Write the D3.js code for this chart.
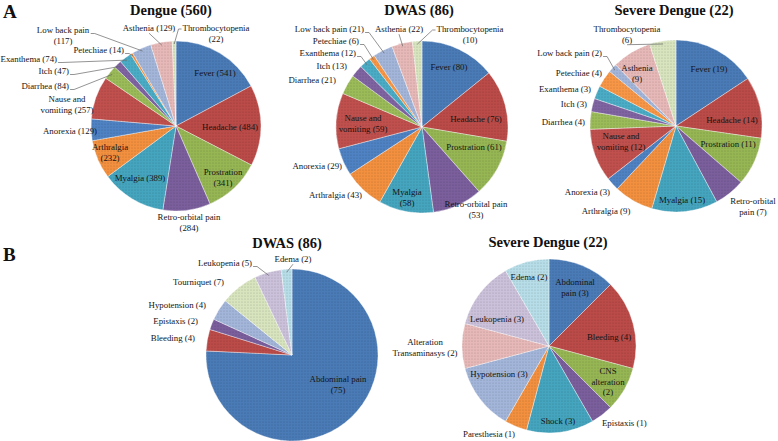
<!DOCTYPE html>
<html>
<head>
<meta charset="utf-8">
<script src="https://cdn.jsdelivr.net/npm/d3@7/dist/d3.min.js"></script>
<style>
  html, body { margin: 0; padding: 0; background: #fff; }
  svg { display: block; }
</style>
</head>
<body>
<svg id="chart" width="778" height="441" font-family="'Liberation Serif', 'Times New Roman', Times, 'DejaVu Serif', serif"></svg>
<script>
// ---------- DATA ----------
const symptomCategories = ["Fever","Headache","Prostration","Retro-orbital pain","Myalgia","Arthralgia","Anorexia","Nause and vomiting","Diarrhea","Itch","Exanthema","Petechiae","Low back pain","Asthenia","Thrombocytopenia"];
const dengueValues = [541,484,341,284,389,232,129,257,84,47,74,14,117,129,22];
const dwasValues   = [80,76,61,53,58,43,29,59,21,13,12,6,21,22,10];
const severeValues = [19,14,11,7,15,9,3,12,4,3,3,4,2,9,6];

const warningCategories = ["Abdominal pain","Bleeding","CNS alteration","Epistaxis","Shock","Paresthesia","Hypotension","Alteration Transaminasys","Tourniquet","Leukopenia","Edema"];
const dwasWarningValues   = [75,4,0,2,0,0,4,0,7,5,2];
const severeWarningValues = [3,4,2,1,3,1,3,2,0,3,2];

const pieTitles = ["Dengue (560)","DWAS (86)","Severe Dengue (22)","DWAS (86)","Severe Dengue (22)"];
const panelLetters = ["A","B"];

// ---------- STYLE ----------
const symptomColors = ["#4A7BB7","#BB4B48","#96B654","#7B5F9D","#45A5BF","#F2903F","#4F82C2","#C0504D","#9BBB59","#8064A2","#4BACC6","#F79646","#A3B6DA","#E6B9B8","#D7E4BD"];
const warningColors = ["#4A7BB7","#BB4B48","#96B654","#7B5F9D","#45A5BF","#F2903F","#A3B6DA","#E6B9B8","#D7E4BD","#CCC1DA","#B7DEE8"];

// ---------- LAYOUT (label placement relative to each pie centre) ----------
// [dx, dy(centre of first line), anchor, wordsPerLine, leader]
const layoutDengue = [
  [39,-53,"middle",null,null],
  [54,1,"middle",null,null],
  [47,46,"middle",[1,1],null],
  [13,91,"middle",[2,1],null],
  [-36,52,"middle",null,null],
  [-66,21,"middle",[1,1],null],
  [-79,5,"end",null,null],
  [-109,-27,"middle",[2,2],null],
  [-107,-40,"end",null,"end"],
  [-107,-55,"end",null,"end"],
  [-119,-67,"end",null,"end"],
  [-52,-76,"end",null,"end"],
  [-113,-96,"middle",[3,1],"end"],
  [-27,-98,"middle",null,"bottom"],
  [40,-98,"middle",[1,1],"start"]
];
const layoutDwas = [
  [27,-60,"middle",null,null],
  [54,-8,"middle",null,null],
  [52,20,"middle",null,null],
  [54,77,"middle",[2,1],null],
  [-15,65,"middle",[1,1],null],
  [-60,68,"end",null,null],
  [-80,39,"end",null,null],
  [-59,-9,"middle",[2,2],null],
  [-86,-47,"end",null,null],
  [-75,-61,"end",null,null],
  [-66,-74,"end",null,"end"],
  [-63,-86,"end",null,"end"],
  [-58,-98,"end",null,"end"],
  [-23,-98,"middle",null,"bottom"],
  [48,-98,"middle",[1,1],"start"]
];
const layoutSevere = [
  [33,-57,"middle",null,null],
  [56,-6,"middle",null,null],
  [52,18,"middle",null,null],
  [77,75,"middle",[1,2],null],
  [6,74,"middle",null,null],
  [-70,85,"middle",null,null],
  [-66,66,"end",null,null],
  [-55,10,"middle",[2,2],null],
  [-91,-4,"end",null,null],
  [-89,-22,"end",null,null],
  [-85,-37,"end",null,null],
  [-74,-53,"end",null,null],
  [-74,-73,"end",null,"end"],
  [-39,-58,"middle",[1,1],null],
  [-49,-97,"middle",[1,1],"bottom"]
];
const layoutDwasWarning = [
  [46,24,"middle",[2,1],null],
  [-97,-17,"end",null,null],
  null,
  [-94,-34,"end",null,null],
  null, null,
  [-86,-50,"end",null,null],
  null,
  [-68,-73,"end",null,null],
  [-40,-92,"end",null,"end"],
  [1,-96,"middle",null,"bottom"]
];
const layoutSevereWarning = [
  [26,-64,"middle",[1,2],null],
  [60,-9,"middle",null,null],
  [59,25,"middle",[1,1,1],null],
  [53,77,"start",null,null],
  [9,75,"middle",null,null],
  [-60,88,"middle",null,null],
  [-50,28,"middle",null,null],
  [-124,-4,"middle",[1,1],null],
  null,
  [-52,-27,"middle",null,null],
  [-20,-69,"middle",null,null]
];

const pies = [
  {cats: symptomCategories, vals: dengueValues, colors: symptomColors, layout: layoutDengue, cx: 176, cy: 126, r: 85, title: pieTitles[0], tx: 171, ty: 15},
  {cats: symptomCategories, vals: dwasValues, colors: symptomColors, layout: layoutDwas, cx: 422, cy: 127, r: 86, title: pieTitles[1], tx: 419, ty: 15},
  {cats: symptomCategories, vals: severeValues, colors: symptomColors, layout: layoutSevere, cx: 676, cy: 126, r: 86, title: pieTitles[2], tx: 674, ty: 15},
  {cats: warningCategories, vals: dwasWarningValues, colors: warningColors, layout: layoutDwasWarning, cx: 292, cy: 355, r: 86, title: pieTitles[3], tx: 287, ty: 248},
  {cats: warningCategories, vals: severeWarningValues, colors: warningColors, layout: layoutSevereWarning, cx: 549, cy: 346, r: 87, title: pieTitles[4], tx: 548, ty: 247}
];

// ---------- DRAW ----------
const FONT = "'Liberation Serif', 'Times New Roman', Times, 'DejaVu Serif', serif";
const svg = d3.select("#chart");
const defs = svg.append("defs");
const pat = defs.append("pattern").attr("id","dots").attr("width",3).attr("height",3).attr("patternUnits","userSpaceOnUse");
pat.append("circle").attr("cx",1).attr("cy",1).attr("r",0.55).attr("fill","#000").attr("opacity",0.24);

const labelSize = 8.8, lineH = 10.5;

pies.forEach(p => {
  const g = svg.append("g").attr("transform", `translate(${p.cx},${p.cy})`);
  const rows = p.cats.map((c,i) => ({cat: c, val: p.vals[i], color: p.colors[i], lay: p.layout[i]}));
  const pie = d3.pie().value(d => d.val).sort(null);
  const arcs = pie(rows).filter(a => a.data.val > 0);
  const arc = d3.arc().innerRadius(0).outerRadius(p.r);

  g.selectAll("path.slice").data(arcs).join("path")
    .attr("class","slice").attr("d", arc).attr("fill", d => d.data.color)
    .attr("stroke","#fff").attr("stroke-width",0.4);
  g.selectAll("path.tex").data(arcs).join("path")
    .attr("class","tex").attr("d", arc).attr("fill","url(#dots)");

  arcs.forEach(a => {
    const lay = a.data.lay;
    if (!lay) return;
    const [dx, dy, anchor, split, leader] = lay;
    const words = `${a.data.cat} (${a.data.val})`.split(" ");
    let lines = [];
    if (split) {
      let k = 0;
      split.forEach(n => { lines.push(words.slice(k, k+n).join(" ")); k += n; });
      if (k < words.length) lines[lines.length-1] += " " + words.slice(k).join(" ");
    } else lines = [words.join(" ")];
    const t = g.append("text").attr("text-anchor", anchor).attr("font-family", FONT)
      .attr("font-size", labelSize).attr("fill","#141414");
    lines.forEach((ln, j) => {
      t.append("tspan").attr("x", dx).attr("y", dy + j*lineH + 3.2).text(ln);
    });
    if (leader) {
      const first = t.select("tspan").node();
      const bb = first.getBBox();
      const full = t.node().getBBox();
      const ang = (a.startAngle + a.endAngle)/2;
      const tx = Math.sin(ang) * (p.r - 3), ty = -Math.cos(ang) * (p.r - 3);
      let pts;
      if (leader === "end") {
        const sx = bb.x + bb.width + 1, sy = dy + 3.5;
        pts = [[sx, sy],[sx + 4, sy],[tx, ty]];
      } else if (leader === "start") {
        const sx = bb.x - 1, sy = dy + 1;
        pts = [[sx, sy],[sx - 3, sy],[tx, ty]];
      } else {
        const sx = full.x + full.width/2, sy = full.y + full.height;
        pts = [[sx, sy],[tx, ty]];
      }
      g.append("path").attr("d", d3.line()(pts)).attr("fill","none")
        .attr("stroke","#666").attr("stroke-width",0.7);
    }
  });

  svg.append("text").attr("x", p.tx).attr("y", p.ty).attr("text-anchor","middle").attr("font-family", FONT)
    .attr("font-size",14.5).attr("font-weight","bold").attr("fill","#111").text(p.title);
});

svg.append("text").attr("x",3).attr("y",18).attr("font-family", FONT).attr("font-size",19).attr("font-weight","bold").attr("fill","#111").text(panelLetters[0]);
svg.append("text").attr("x",3).attr("y",261).attr("font-family", FONT).attr("font-size",19).attr("font-weight","bold").attr("fill","#111").text(panelLetters[1]);
</script>
</body>
</html>
